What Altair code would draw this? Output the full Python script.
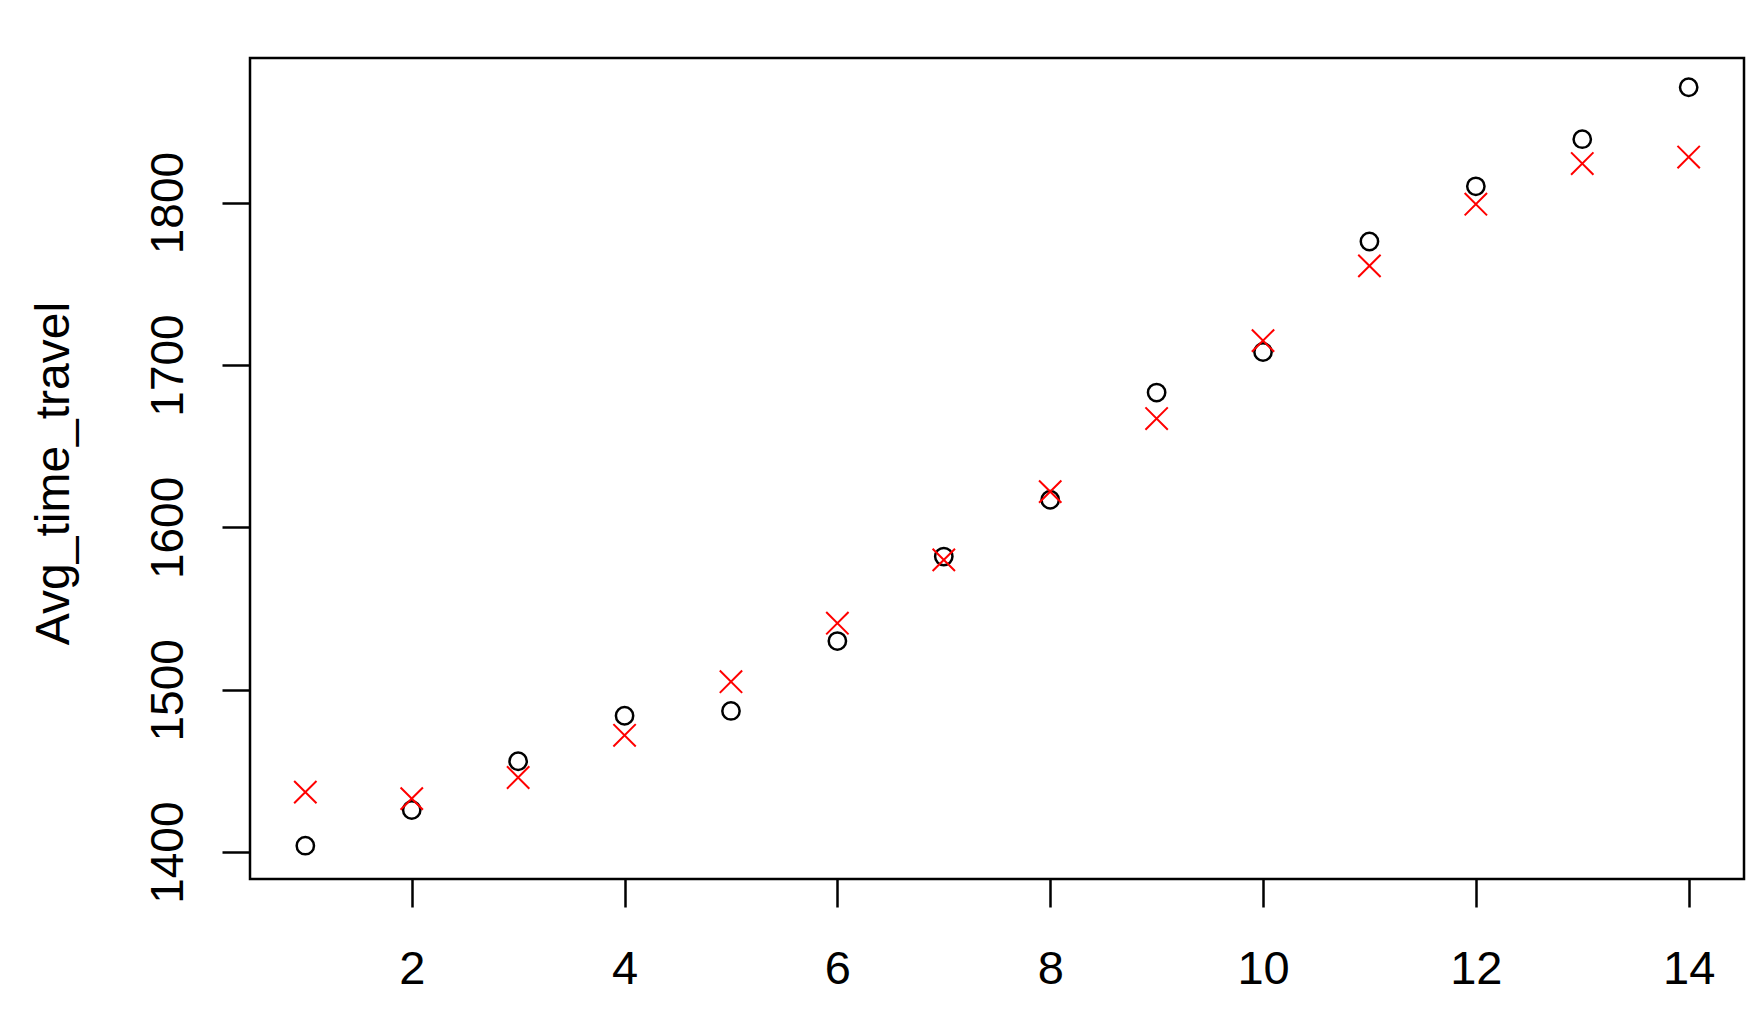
import altair as alt
import pandas as pd

x_vals = [1, 2, 3, 4, 5, 6, 7, 8, 9, 10, 11, 12, 13, 14]
actual = [1404, 1426, 1456, 1484, 1487, 1530, 1582, 1617, 1683, 1708, 1776, 1810, 1839, 1871]
predicted = [1437, 1433, 1446, 1472, 1505, 1541, 1580, 1622, 1667, 1715, 1761, 1799, 1824, 1828]
x_ticks = [2, 4, 6, 8, 10, 12, 14]
y_ticks = [1400, 1500, 1600, 1700, 1800]

df_a = pd.DataFrame({"x": x_vals, "y": actual})
df_p = pd.DataFrame({"x": x_vals, "y": predicted})

FONT = "Liberation Sans"

xenc = alt.X(
    "x:Q",
    scale=alt.Scale(domain=[0.48, 14.52], nice=False, zero=False),
    axis=alt.Axis(
        values=x_ticks, title=None, grid=False, domain=False, format="d",
        tickSize=28, tickWidth=2.5, tickColor="black",
        labelFont=FONT, labelFontSize=47, labelColor="black",
        labelBaseline="alphabetic", labelPadding=76, labelFlush=False,
        labelOverlap=False,
    ),
)
yenc = alt.Y(
    "y:Q",
    scale=alt.Scale(domain=[1383.5, 1889], nice=False, zero=False),
    axis=alt.Axis(
        values=y_ticks, title="Avg_time_travel", grid=False, domain=False,
        format="d",
        tickSize=28, tickWidth=2.5, tickColor="black",
        labelFont=FONT, labelFontSize=46, labelColor="black",
        labelAngle=270, labelAlign="center", labelBaseline="alphabetic",
        labelPadding=40, labelFlush=False, labelOverlap=False,
        titleFont=FONT, titleFontSize=48, titleFontWeight="normal",
        titleColor="black", titleAngle=270, titleAlign="center",
        titleBaseline="alphabetic", titleX=-182, titleY=415,
    ),
)

circles = alt.Chart(df_a).mark_point(
    shape="circle", size=300, filled=False, color="black",
    strokeWidth=2.5, opacity=1,
).encode(x=xenc, y=yenc)

crosses = alt.Chart(df_p).mark_point(
    shape="M-1,-1L1,1M-1,1L1,-1", size=500, filled=False, color="red",
    strokeWidth=2, opacity=1,
).encode(x=xenc, y=yenc)

chart = alt.layer(circles, crosses).properties(
    width=1494, height=821,
    autosize=alt.AutoSizeParams(type="none"),
    padding={"left": 242, "top": 50, "right": 10, "bottom": 120},
    background="white",
).configure_view(stroke="black", strokeWidth=2.5)

chart.save("out.html", embed_options={"renderer": "svg", "actions": False})
